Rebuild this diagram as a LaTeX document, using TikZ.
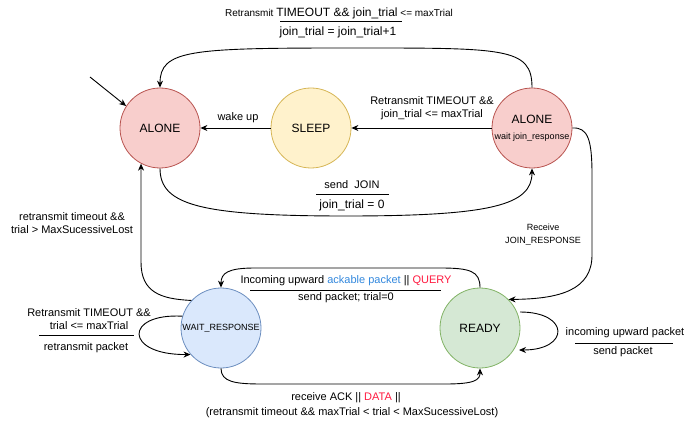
\documentclass[tikz,border=0pt]{standalone}
\usepackage{fontspec}
\setmainfont{Liberation Sans}
\usetikzlibrary{arrows.meta}
\definecolor{redF}{HTML}{F8CECC}
\definecolor{redS}{HTML}{B85450}
\definecolor{yelF}{HTML}{FFF2CC}
\definecolor{yelS}{HTML}{D6B656}
\definecolor{bluF}{HTML}{DAE8FC}
\definecolor{bluS}{HTML}{6C8EBF}
\definecolor{grnF}{HTML}{D5E8D4}
\definecolor{grnS}{HTML}{82B366}
\definecolor{ackblue}{HTML}{3388DD}
\definecolor{qred}{HTML}{FF1A40}
\begin{document}
\begin{tikzpicture}[x=1pt,y=-1pt,
  state/.style={circle, draw, line width=0.8pt, minimum size=80pt, inner sep=0pt, align=center, font=\fontsize{12}{14}\selectfont},
  arr/.style={-{Stealth[length=7pt,width=6pt]}, line width=0.9pt},
  lab/.style={inner sep=0pt, align=center, font=\fontsize{11}{13}\selectfont},
  lab12/.style={inner sep=0pt, align=center, font=\fontsize{12}{14}\selectfont},
  small/.style={inner sep=0pt, align=center, font=\fontsize{9}{13}\selectfont},
  rule/.style={line width=0.9pt}
]
\useasboundingbox (0,0) rectangle (684,422);

% states
\node[state, fill=redF, draw=redS] (aloneL) at (160,128) {ALONE};
\node[state, fill=yelF, draw=yelS] (sleep) at (311,128) {SLEEP};
\node[state, fill=redF, draw=redS] (aloneR) at (532,128) {ALONE\\[2pt]{\fontsize{9}{11}\selectfont wait join\_response}};
\node[state, fill=bluF, draw=bluS, font=\fontsize{9}{11}\selectfont] (wait) at (221,328) {WAIT\_RESPONSE};
\node[state, fill=grnF, draw=grnS] (ready) at (480,328) {READY};

% initial arrow
\coordinate (init) at (90,77);
\draw[arr] (init) -- (aloneL.147);

% top arc
\draw[arr] (aloneR.north) .. controls (532,47) and (505,48) .. (346,48)
  .. controls (190,48) and (160,50) .. (aloneL.north);
\node[inner sep=0pt] (ltop1) at (339,13) {{\fontsize{10}{12}\selectfont Retransmit }{\fontsize{12}{14}\selectfont TIMEOUT \&\& join\_trial}{\fontsize{10}{12}\selectfont\ <= maxTrial}};
\draw[rule] (280,21) -- (402,21);
\node[lab12] (ltop2) at (338,32) {join\_trial = join\_trial+1};

% aloneR -> sleep
\draw[arr] (aloneR.west) -- (sleep.east);
\node[lab] (lsleep) at (432,108.5) {Retransmit TIMEOUT \&\&\\join\_trial <= maxTrial};

% sleep -> aloneL
\draw[arr] (sleep.west) -- (aloneL.east);
\node[lab] (lwake) at (238,118) {wake up};

% aloneL -> aloneR (send JOIN)
\draw[arr] (aloneL.south) .. controls (160,205) and (200,216) .. (346,216)
  .. controls (492,216) and (532,205) .. (aloneR.south);
\node[lab] (ljoin1) at (352,185) {send\ \ JOIN};
\draw[rule] (316,194) -- (389,194);
\node[lab12] (ljoin2) at (352,205) {join\_trial = 0};

% aloneR -> ready
\draw[arr] (aloneR.east) .. controls (588,127) and (592,140) .. (592,175)
  -- (592,255) .. controls (592,290) and (560,299) .. (ready.45);
\node[small] (lrecv) at (543,234.5) {Receive\\JOIN\_RESPONSE};

% wait -> aloneL
\draw[arr] (wait.137) .. controls (160,299) and (141,292) .. (141,262) -- (aloneL.242);
\node[lab] (lrt) at (72,223) {retransmit timeout \&\&\\trial > MaxSucessiveLost};

% ready -> wait
\draw[arr] (ready.north) .. controls (480,271) and (470,268) .. (440,268)
  -- (255,268) .. controls (228,268) and (221,273) .. (wait.north);
\node[lab] (lack1) at (346,281) {Incoming upward \textcolor{ackblue}{ackable packet} || \textcolor{qred}{QUERY}};
\draw[rule] (250,290) -- (441,290);
\node[lab] (lack2) at (346,298) {send packet; trial=0};

% wait self-loop
\draw[arr] (wait.163) .. controls (124,313) and (124,355) .. (wait.221);
\node[lab] (lws1) at (89,319.5) {Retransmit TIMEOUT \&\&\\trial <= maxTrial};
\draw[rule] (39,335) -- (134,335);
\node[lab] (lws2) at (86,348) {retransmit packet};

% ready self-loop
\coordinate (rs1) at (520,312);
\coordinate (rs2) at (519,350);
\draw[arr] (rs1) .. controls (570,312) and (570,350) .. (rs2);
\node[lab] (lrs1) at (625,333) {incoming upward packet};
\draw[rule] (575,343) -- (673,343);
\node[lab] (lrs2) at (623,352) {send packet};

% wait -> ready bottom
\draw[arr] (wait.south) .. controls (221,382) and (235,384) .. (262,384)
  -- (445,384) .. controls (475,384) and (480,380) .. (ready.south);
\node[lab] (lbot1) at (346,398) {receive ACK || \textcolor{qred}{DATA} ||};
\node[lab] (lbot2) at (352,413) {(retransmit timeout \&\& maxTrial < trial < MaxSucessiveLost)};
\end{tikzpicture}
\end{document}
